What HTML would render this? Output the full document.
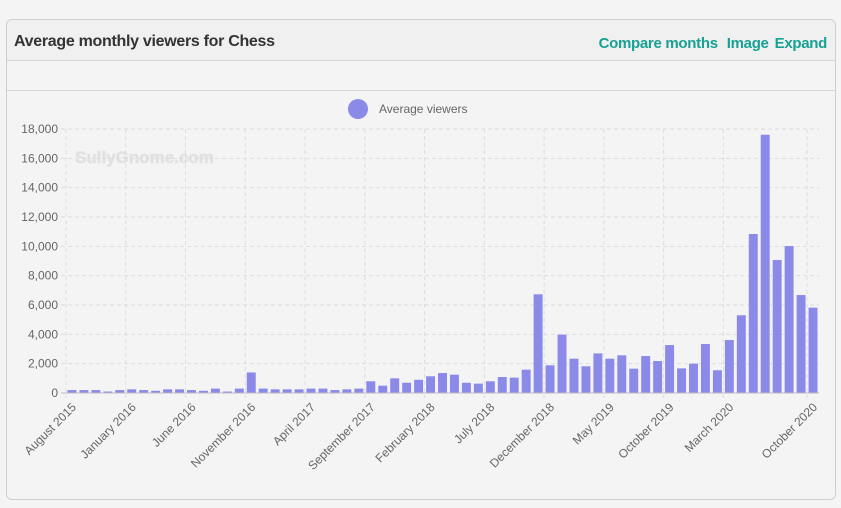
<!DOCTYPE html>
<html><head><meta charset="utf-8"><style>
body{margin:0;background:#f4f4f4;width:841px;height:508px;overflow:hidden;font-family:"Liberation Sans",sans-serif}
.card{position:absolute;left:6px;top:19px;width:828px;height:479px;border:1px solid #cfcfcf;border-radius:6px;background:#f4f4f4}
.hdr{position:absolute;left:0;top:0;width:828px;height:40px;border-bottom:1px solid #d6d6d6;background:#f0f0f0;border-radius:6px 6px 0 0}
.title{position:absolute;left:7px;top:13px;font-size:16px;font-weight:bold;color:#333;letter-spacing:-0.3px}
.links{position:absolute;right:8px;top:15px;font-size:15px;font-weight:bold;color:#17a094;letter-spacing:-0.3px}
.links span{margin-left:9px}
.sub{position:absolute;left:0;top:41px;width:828px;height:29px;border-bottom:1px solid #d6d6d6}
svg{position:absolute;left:0;top:0}
</style></head><body>
<div class="card">
<div class="hdr">
<div class="title">Average monthly viewers for Chess</div>
<div class="links"><span>Compare months</span><span>Image</span><span style="margin-left:6px">Expand</span></div>
</div>
<div class="sub"></div>
</div>
<svg id="chart" width="841" height="508"></svg>
<script>
const monthNames=["January","February","March","April","May","June","July","August","September","October","November","December"];
const categories=[];for(let i=0;i<63;i++){const m=(7+i)%12,y=2015+Math.floor((7+i)/12);categories.push(monthNames[m]+" "+y);}
const values=[200,200,200,100,200,250,200,150,250,250,200,150,300,100,300,1400,300,250,250,250,300,300,200,250,300,800,500,1000,700,900,1140,1360,1250,700,640,800,1090,1050,1590,6730,1890,3980,2340,1820,2700,2340,2570,1660,2520,2180,3270,1680,2000,3340,1550,3610,5300,10840,17610,9070,10020,6680,5820];
const yTicks=[0,2000,4000,6000,8000,10000,12000,14000,16000,18000];
const NS="http://www.w3.org/2000/svg";const svg=document.getElementById('chart');
const x0=66,x1=819,yb=393,yt=129,ymax=18000;
const band=(x1-x0)/categories.length;
const xs=i=>x0+i*band;const ys=v=>yb-(v/ymax)*(yb-yt);
function mk(t,a){const e=document.createElementNS(NS,t);for(const k in a)e.setAttribute(k,a[k]);svg.appendChild(e);return e;}
let wm=mk('text',{x:75,y:163,'font-size':17,'font-weight':'bold',fill:'#dedede',stroke:'#e6e6e6','font-family':'Liberation Sans, sans-serif'});wm.textContent='SullyGnome.com';


yTicks.forEach(v=>{const y=ys(v);
const l=mk('line',{x1:x0-5,x2:x1,y1:y,y2:y,stroke:v===0?'#bbb':'#ddd','stroke-dasharray':v===0?'':'4,3'});


const t=mk('text',{x:x0-8,y:y+4,'text-anchor':'end','font-size':12,fill:'#666'});t.textContent=v.toLocaleString('en-US');

});
const labelIdx=[];for(let i=0;i<categories.length;i+=5)labelIdx.push(i);labelIdx[labelIdx.length-1]=categories.length-1;
labelIdx.forEach(i=>{const gx=(i===categories.length-1)?xs(i):xs(i);
const g=mk('line',{x1:gx,x2:gx,y1:yt,y2:yb+5,stroke:'#ddd','stroke-dasharray':'4,3'});


const cx=xs(i)+band/2-1,cy=yb+9;
const t=mk('text',{x:cx,y:cy,'text-anchor':'end','font-size':12,fill:'#666',transform:`rotate(-45 ${cx} ${cy})`,dy:'0.7em'});t.textContent=categories[i];

});
values.forEach((v,i)=>{const r=mk('rect',{x:xs(i)+1.5,y:ys(v),width:band-3,height:yb-ys(v),fill:'#8b8ae8'});

});
mk('line',{x1:x0,x2:x1,y1:yb,y2:yb,stroke:'#bbb'});
const lc=mk('circle',{cx:358,cy:109,r:10,fill:'#8b8ae8'});


const lt=mk('text',{x:379,y:113,'font-size':12,fill:'#666'});lt.textContent='Average viewers';


</script>
</body></html>
